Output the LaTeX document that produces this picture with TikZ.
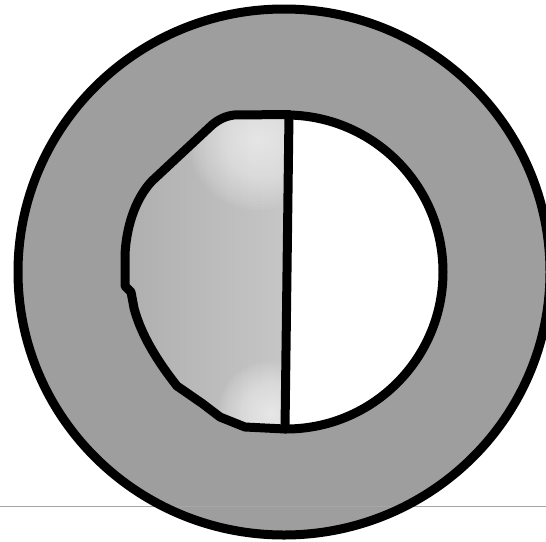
\documentclass[tikz,border=0pt]{standalone}
\begin{document}
\begin{tikzpicture}[x=1pt,y=-1pt,line join=round,line cap=round]
\definecolor{ringgray}{gray}{0.62}
\definecolor{leftgray}{gray}{0.68}
\definecolor{leftlight}{gray}{0.78}
\tikzset{
  thick line/.style={draw=black,line width=9pt},
  scanline/.style={draw=gray!70,line width=0.8pt}
}
\useasboundingbox (0,0) rectangle (546,541);
\clip (0,0) rectangle (546,541);
% named points
\coordinate (oc) at (284,272);
\coordinate (ic) at (286,272);
\coordinate (vt) at (289,114.5);
\coordinate (vb) at (285,429);
% outer disc
\fill[ringgray] (oc) ellipse[x radius=266,y radius=263];
% scan line
\draw[scanline] (0,506) -- (546,506);
% inner disc (white right half)
\fill[white] (ic) circle[radius=157];
% left half shape
\def\leftpath{(vt) -- (234,115) .. controls (226,116) and (219,119) .. (212,125) -- (152,181)
  .. controls (134,200) and (126,230) .. (125,255)
  -- (125,286) -- (131,292) -- (134,308)
  .. controls (141,335) and (158,362) .. (177,386)
  -- (203,404) -- (220,417) -- (245,427) -- (vb) -- cycle}
\begin{scope}
  \clip \leftpath;
  \shade[left color=leftgray,right color=leftlight] (115,100) rectangle (292,440);
  \foreach \r in {70,67,...,4} {
    \fill[white,opacity=0.05] (258,140) circle[radius=\r];
    \fill[white,opacity=0.05] (270,414) circle[radius=\r*0.75];
  }
\end{scope}
% strokes
\draw[thick line] (oc) ellipse[x radius=266,y radius=263];
\draw[thick line] (286,115) arc[start angle=-90,end angle=90,radius=157];
\draw[thick line] (vt) -- (234,115) .. controls (226,116) and (219,119) .. (212,125) -- (152,181)
  .. controls (134,200) and (126,230) .. (125,255)
  -- (125,286) -- (131,292) -- (134,308)
  .. controls (141,335) and (158,362) .. (177,386)
  -- (203,404) -- (220,417) -- (245,427) -- (vb);
\draw[thick line] (vt) -- (vb);
\end{tikzpicture}
\end{document}
